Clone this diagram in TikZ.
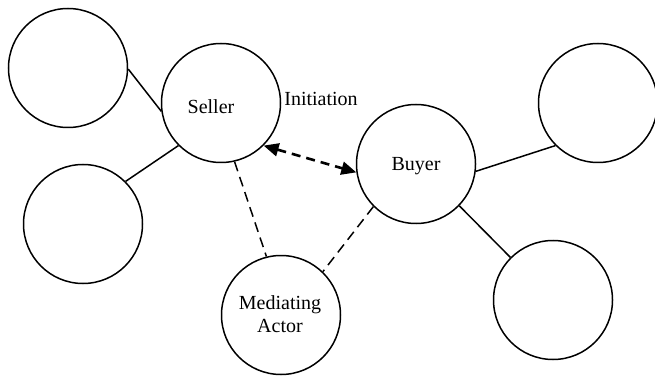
\documentclass[tikz,border=0pt]{standalone}
\usepackage{fontspec}
\setmainfont{Liberation Serif}
\usetikzlibrary{arrows.meta}
\begin{document}
\begin{tikzpicture}[x=1pt,y=-1pt,
  actor/.style={circle,draw,line width=1.5pt,minimum size=119pt,inner sep=0pt},
  txt/.style={font=\fontsize{20}{23}\selectfont,align=center,inner sep=0pt},
  tie/.style={line width=1.5pt},
  weak/.style={line width=1.5pt,dash pattern=on 10pt off 6pt},
  initarrow/.style={line width=2.6pt,dash pattern=on 9pt off 6pt,
    {Triangle[length=15pt,width=13pt]}-{Triangle[length=15pt,width=13pt]}}]
\useasboundingbox (0,0) rectangle (655,379);
\node[actor] (tl) at (68,68) {};
\node[actor] (bl) at (83,224) {};
\node[actor] (seller) at (221,103) {};
\node[actor] (buyer) at (416,164) {};
\node[actor] (tr) at (598,103) {};
\node[actor] (br) at (553,300) {};
\node[actor] (med) at (281,315) {};
\node[txt] (sellert) at (211,107) {Seller};
\node[txt] (buyert) at (416,166) {Buyer};
\node[txt] (medt) at (280,314) {Mediating\\Actor};
\node[txt] (initt) at (321,99) {Initiation};
\draw[tie] (tl.-1) -- (seller.-172);
\draw[tie] (bl.45) -- (seller.225);
\draw[tie] (buyer.-7) -- (tr.225);
\draw[tie] (buyer.-44) -- (br.135);
\draw[weak] (seller.-77) -- (med.104);
\draw[weak] (buyer.225) -- (med.46);
\draw[initarrow] (seller.-45) -- (buyer.-172);
\end{tikzpicture}
\end{document}
